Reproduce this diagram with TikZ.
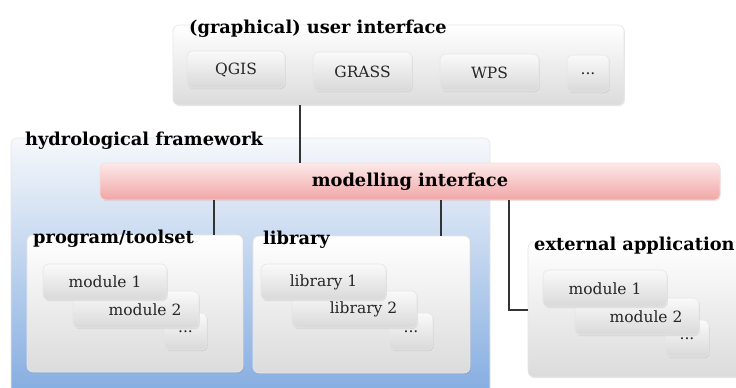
\documentclass[tikz,border=0pt]{standalone}
\usepackage{fontspec}
\setmainfont{DejaVu Serif}
\usetikzlibrary{shadows,fit}
\definecolor{linegray}{HTML}{333333}
\definecolor{panelborder}{HTML}{E6E6E6}
\definecolor{hydrotop}{HTML}{F6F8FB}
\definecolor{hydrobot}{HTML}{82ABE0}
\definecolor{pinktop}{HTML}{FDE9E9}
\definecolor{pinkbot}{HTML}{F0A6A6}
\begin{document}
\begin{tikzpicture}[x=1pt,y=-1pt,
  panel/.style={draw=panelborder, line width=0.6pt, rounded corners=6pt,
    top color=white, bottom color=black!14, inner sep=0pt,
    drop shadow={opacity=0.18, shadow xshift=0.8pt, shadow yshift=-1.2pt}},
  cell/.style={panel, top color=black!2, bottom color=black!15},
  celltext/.style={inner sep=0pt, text=black!85, font=\fontsize{15.5}{18}\selectfont},
  title/.style={anchor=base west, inner sep=0pt, font=\fontsize{17.8}{20}\selectfont\bfseries},
  link/.style={draw=linegray, line width=1.3pt}]
\useasboundingbox (0,0) rectangle (736,388);

% hydrological framework container
\node[draw=panelborder, line width=0.6pt, rounded corners=6pt, inner sep=0pt,
  top color=hydrotop, bottom color=hydrobot, fit={(11,138) (490,400)}] (hydro) {};
\node[title] (hydrot) at (25,145) {hydrological framework};

% user interface
\node[panel, fit={(173,25) (624,105)}] (gui) {};
\node[title] (guit) at (189,33) {(graphical) user interface};
\node[cell, fit={(187,51) (285,88)}] (qgis) {};
\node[celltext] at (qgis.center) {QGIS};
\node[cell, fit={(313,52) (412,91)}] (grass) {};
\node[celltext] at (grass.center) {GRASS};
\node[cell, fit={(440,54) (539,91)}] (wps) {};
\node[celltext] at (wps.center) {WPS};
\node[cell, fit={(567,55) (609,92)}] (guimore) {};
\node[celltext] at (guimore.center) {...};

% modelling interface
\node[draw=pinktop!80!pinkbot, line width=0.6pt, rounded corners=6pt, inner sep=0pt,
  top color=pinktop, bottom color=pinkbot,
  drop shadow={opacity=0.15, shadow xshift=0.8pt, shadow yshift=-1.2pt},
  fit={(100,163) (720,200)}] (mi) {};
\node[font=\fontsize{17.8}{20}\selectfont\bfseries, inner sep=0pt] (mit) at (mi.center) {modelling interface};

% program/toolset
\node[panel, fit={(27,235) (243,372)}] (prog) {};
\node[title] (progt) at (33,243) {program/toolset};
\node[cell, fit={(164,313) (207,350)}] (progmore) {};
\node[celltext] at (progmore.center) {...};
\node[cell, fit={(73,291) (199,328)}] (pmod2) {};
\node[celltext] at ([xshift=9pt]pmod2.center) {module 2};
\node[cell, fit={(43,264) (167,300)}] (pmod1) {};
\node[celltext] at (pmod1.center) {module 1};

% library
\node[panel, fit={(253,236) (470,373)}] (lib) {};
\node[title] (libt) at (263,244) {library};
\node[cell, fit={(389,313) (433,350)}] (libmore) {};
\node[celltext] at (libmore.center) {...};
\node[cell, fit={(292,291) (417,328)}] (lib2) {};
\node[celltext] at ([xshift=9pt]lib2.center) {library 2};
\node[cell, fit={(261,264) (386,300)}] (lib1) {};
\node[celltext] at (lib1.center) {library 1};

% external application
\node[panel, fit={(528,242) (760,377)}] (ext) {};
\node[title] (extt) at (534,250) {external application};
\node[cell, fit={(665,320) (709,357)}] (extmore) {};
\node[celltext] at (extmore.center) {...};
\node[cell, fit={(575,298) (699,335)}] (emod2) {};
\node[celltext] at ([xshift=9pt]emod2.center) {module 2};
\node[cell, fit={(543,270) (667,307)}] (emod1) {};
\node[celltext] at (emod1.center) {module 1};

% connectors
\coordinate (xa) at (300,0);
\coordinate (xb) at (214,0);
\coordinate (xc) at (441,0);
\coordinate (xd) at (509,0);
\coordinate (bend) at (509,310);
\draw[link] (xa |- gui.south) -- (xa |- mi.north);
\draw[link] (xb |- mi.south) -- (xb |- prog.north);
\draw[link] (xc |- mi.south) -- (xc |- lib.north);
\draw[link] (xd |- mi.south) -- (bend) -- (bend -| ext.west);
\end{tikzpicture}
\end{document}
